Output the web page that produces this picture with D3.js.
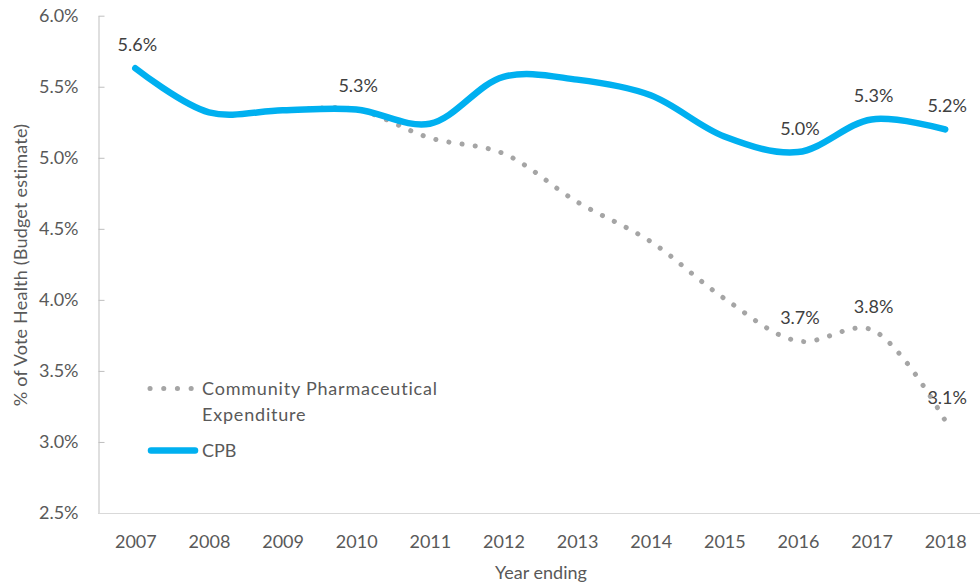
<!DOCTYPE html>
<html>
<head>
<meta charset="utf-8">
<script src="https://cdn.jsdelivr.net/npm/d3@7"></script>
<style>
  body { margin: 0; background: #fff; }
  text { font-family: Lato, "Open Sans", sans-serif; }
</style>
</head>
<body>
<script>
// chart data
const years = ['2007', '2008', '2009', '2010', '2011', '2012', '2013', '2014', '2015', '2016', '2017', '2018'];
const cpb = [5.63, 5.32, 5.335, 5.34, 5.24, 5.57, 5.55, 5.44, 5.15, 5.04, 5.27, 5.20];
const cpe = [5.63, 5.32, 5.335, 5.34, 5.14, 5.03, 4.69, 4.41, 4.01, 3.71, 3.79, 3.15];
const cpbLabelYears = ['2007', '2010', '2016', '2017', '2018'];
const cpeLabelYears = ['2016', '2017', '2018'];
const yTicks = [2.5, 3.0, 3.5, 4.0, 4.5, 5.0, 5.5, 6.0];

const width = 980, height = 586;

const svg = d3.select('body').append('svg')
  .attr('width', width)
  .attr('height', height);

const x = d3.scalePoint()
  .domain(years)
  .range([98.5, 982])
  .padding(0.5);

const y = d3.scaleLinear()
  .domain([2.5, 6.0])
  .range([513, 15.7]);

// y axis, ticks point inward
const yAxis = svg.append('g')
  .attr('transform', 'translate(98.5,0)')
  .call(d3.axisLeft(y)
    .tickValues(yTicks)
    .tickFormat(d => d.toFixed(1) + '%')
    .tickSizeInner(-6)
    .tickSizeOuter(0)
    .tickPadding(20));
yAxis.select('.domain').attr('stroke', '#bfbfbf');
yAxis.selectAll('.tick line').attr('stroke', '#bfbfbf');
yAxis.selectAll('.tick text')
  .attr('fill', '#595959')
  .style('font-size', '18px');

// x axis
const xAxis = svg.append('g')
  .attr('transform', 'translate(0,513)')
  .call(d3.axisBottom(x).tickSize(0).tickPadding(22));
xAxis.select('.domain').attr('stroke', '#d9d9d9');
xAxis.selectAll('.tick text')
  .attr('fill', '#595959')
  .style('font-size', '18px');

// axis titles
svg.append('text')
  .attr('transform', 'translate(27,265) rotate(-90)')
  .attr('text-anchor', 'middle')
  .attr('fill', '#595959')
  .style('font-size', '18px')
  .style('letter-spacing', '0.2px')
  .text('% of Vote Health (Budget estimate)');

svg.append('text')
  .attr('x', 541)
  .attr('y', 579)
  .attr('text-anchor', 'middle')
  .attr('fill', '#595959')
  .style('font-size', '18px')
  .text('Year ending');

const line = d3.line()
  .x((d, i) => x(years[i]))
  .y(d => y(d))
  .curve(d3.curveCatmullRom.alpha(0.5));

// Community Pharmaceutical Expenditure (dotted)
svg.append('path')
  .datum(cpe)
  .attr('d', line)
  .attr('fill', 'none')
  .attr('stroke', '#a5a5a5')
  .attr('stroke-width', 5)
  .attr('stroke-linecap', 'round')
  .attr('stroke-dasharray', '0.1 13.2');

// CPB
svg.append('path')
  .datum(cpb)
  .attr('d', line)
  .attr('fill', 'none')
  .attr('stroke', '#00b0f0')
  .attr('stroke-width', 6.5)
  .attr('stroke-linecap', 'round');

// data labels
function addLabels(values, labelYears) {
  svg.append('g').selectAll('text')
    .data(labelYears)
    .enter().append('text')
    .attr('x', d => x(d) + 2)
    .attr('y', d => y(values[years.indexOf(d)]) - 17)
    .attr('text-anchor', 'middle')
    .attr('fill', '#404040')
    .style('font-size', '18px')
    .text(d => values[years.indexOf(d)].toFixed(1) + '%');
}
addLabels(cpb, cpbLabelYears);
addLabels(cpe, cpeLabelYears);

// legend
const legend = svg.append('g');
legend.append('line')
  .attr('x1', 150).attr('x2', 192)
  .attr('y1', 388.5).attr('y2', 388.5)
  .attr('stroke', '#a5a5a5')
  .attr('stroke-width', 5)
  .attr('stroke-linecap', 'round')
  .attr('stroke-dasharray', '0.1 13.6');
legend.append('text')
  .attr('x', 202).attr('y', 395)
  .attr('fill', '#595959')
  .style('font-size', '18px')
  .style('letter-spacing', '0.8px')
  .text('Community Pharmaceutical');
legend.append('text')
  .attr('x', 202).attr('y', 421)
  .attr('fill', '#595959')
  .style('font-size', '18px')
  .style('letter-spacing', '0.8px')
  .text('Expenditure');
legend.append('line')
  .attr('x1', 151).attr('x2', 195)
  .attr('y1', 450.5).attr('y2', 450.5)
  .attr('stroke', '#00b0f0')
  .attr('stroke-width', 6.5)
  .attr('stroke-linecap', 'round');
legend.append('text')
  .attr('x', 202).attr('y', 457)
  .attr('fill', '#595959')
  .style('font-size', '18px')
  .text('CPB');
</script>
</body>
</html>
